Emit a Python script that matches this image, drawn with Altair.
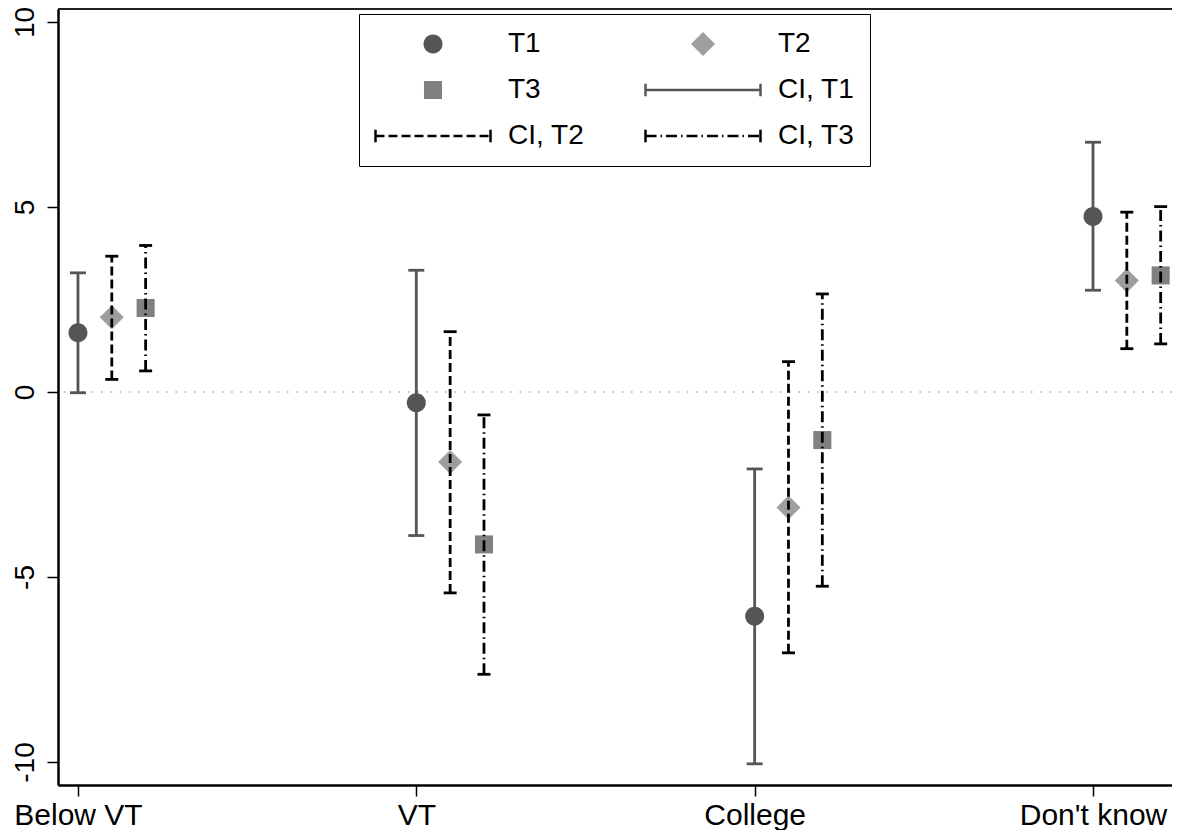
import json
import pandas as pd
import altair as alt

# ---------------- data ----------------
categories = ["Below VT", "VT", "College", "Don't know"]
series_names = ["T1", "T2", "T3"]
ci_names = ["CI, T1", "CI, T2", "CI, T3"]

t1_est = [1.60, -0.29, -6.06, 4.74]
t1_lo = [-0.02, -3.88, -10.05, 2.75]
t1_hi = [3.22, 3.29, -2.08, 6.75]

t2_est = [2.02, -1.89, -3.12, 3.01]
t2_lo = [0.34, -5.43, -7.05, 1.17]
t2_hi = [3.67, 1.63, 0.82, 4.86]

t3_est = [2.27, -4.12, -1.30, 3.15]
t3_lo = [0.57, -7.63, -5.25, 1.30]
t3_hi = [3.96, -0.62, 2.65, 5.01]

y_ticks = [-10, -5, 0, 5, 10]

# ---------------- layout / style ----------------
W, H = 1114, 776
offsets = {"T1": 0.0, "T2": 0.1, "T3": 0.2}
FONT = "Liberation Sans"
SYM = 13225  # symbol size -> r = sqrt(SYM)/2 = 57.5 px

rows = []
for name, est, lo, hi in zip(series_names,
                             [t1_est, t2_est, t3_est],
                             [t1_lo, t2_lo, t3_lo],
                             [t1_hi, t2_hi, t3_hi]):
    for i, cat in enumerate(categories):
        rows.append({"cat": cat, "pos": i + 1 + offsets[name], "series": name,
                     "ci": "CI, " + name, "est": est[i], "lo": lo[i], "hi": hi[i]})
df = pd.DataFrame(rows)

legend_domain = series_names + ci_names
circle = "M0.165,0A0.165,0.165 0 1,1 -0.165,0A0.165,0.165 0 1,1 0.165,0Z"
diamond = "M-0.209,0L0,-0.209L0.209,0L0,0.209Z"
square = "M-0.157,-0.157H0.157V0.157H-0.157Z"
ci_path = "M-1,0H1M-1,0V-0.11M-1,0V0.11M1,0V-0.11M1,0V0.11"

fill_range = ["#555555", "#9e9e9e", "#808080", "transparent", "transparent", "transparent"]
stroke_range = ["transparent", "transparent", "transparent", "#555555", "#000000", "#000000"]
dash_range = [[1, 0], [1, 0], [1, 0], [1, 0], [9, 4], [11, 4, 1.5, 4]]
shape_range = [circle, diamond, square, ci_path, ci_path, ci_path]

legend = alt.Legend(
    title=None, orient="none", legendX=301, legendY=5, columns=2, direction="horizontal",
    labelFontSize=28, labelFont=FONT, labelColor="black",
    symbolSize=SYM, symbolStrokeWidth=2.5, symbolOpacity=1,
    clipHeight=30, rowPadding=16, columnPadding=59, labelOffset=16,
    padding=15, strokeColor="black", fillColor="white", symbolOffset=0,
)

xscale = alt.Scale(domain=[0.941, 4.2335], nice=False, zero=False)
yscale = alt.Scale(domain=[-10.622, 10.351], nice=False, zero=False)

label_expr = json.dumps(categories) + "[datum.value - 1]"
xaxis = alt.Axis(values=[1, 2, 3, 4], labelExpr=label_expr, title=None, grid=False,
                 tickSize=11, tickWidth=1.5, tickColor="black",
                 domainColor="black", domainWidth=2.5,
                 labelFontSize=30, labelFont=FONT, labelColor="black", labelPadding=4)
yaxis = alt.Axis(values=y_ticks, labelExpr="datum.value + ''", title=None, grid=False,
                 labelAngle=270, labelAlign="center", labelBaseline="alphabetic",
                 tickSize=11, tickWidth=1.5, tickColor="black",
                 domainColor="black", domainWidth=2.5,
                 labelFontSize=28, labelFont=FONT, labelColor="black", labelPadding=14)

zero_df = pd.DataFrame({"z": [0]})

zero_line = alt.Chart(zero_df).mark_rule(color="#a8a8a8", strokeDash=[1.5, 7.8], strokeWidth=1.5).encode(
    y=alt.Y("z:Q", scale=yscale, axis=yaxis)
)

top_frame = alt.Chart(zero_df).mark_rule(color="#222222", strokeWidth=2).encode(
    x=alt.value(0), x2=alt.value(W), y=alt.value(0)
)

points = alt.Chart(df).mark_point(filled=True, size=SYM, opacity=1, strokeWidth=2.5).encode(
    x=alt.X("pos:Q", scale=xscale, axis=xaxis),
    y=alt.Y("est:Q", scale=yscale, axis=yaxis),
    fill=alt.Fill("series:N", scale=alt.Scale(domain=legend_domain, range=fill_range), legend=legend),
    stroke=alt.Stroke("series:N", scale=alt.Scale(domain=legend_domain, range=stroke_range), legend=legend),
    shape=alt.Shape("series:N", scale=alt.Scale(domain=legend_domain, range=shape_range), legend=legend),
    strokeDash=alt.StrokeDash("series:N", scale=alt.Scale(domain=legend_domain, range=dash_range), legend=legend),
)

ci_style = {
    "T1": {"color": "#555555", "dash": [1, 0], "cap": 16},
    "T2": {"color": "#000000", "dash": [9, 4], "cap": 13},
    "T3": {"color": "#000000", "dash": [11, 4, 1.5, 4], "cap": 13},
}

layers = [zero_line, points]
for name in series_names:
    st = ci_style[name]
    sub = alt.Chart(df).transform_filter(alt.datum.series == name)
    line = sub.mark_rule(color=st["color"], strokeWidth=2.8, strokeDash=st["dash"]).encode(
        x=alt.X("pos:Q", scale=xscale, axis=xaxis),
        y=alt.Y("lo:Q", scale=yscale, axis=yaxis),
        y2="hi:Q",
    )
    cap_lo = sub.mark_tick(orient="horizontal", size=st["cap"], thickness=2.8,
                           color=st["color"], opacity=1).encode(
        x=alt.X("pos:Q", scale=xscale, axis=xaxis),
        y=alt.Y("lo:Q", scale=yscale, axis=yaxis),
    )
    cap_hi = sub.mark_tick(orient="horizontal", size=st["cap"], thickness=2.8,
                           color=st["color"], opacity=1).encode(
        x=alt.X("pos:Q", scale=xscale, axis=xaxis),
        y=alt.Y("hi:Q", scale=yscale, axis=yaxis),
    )
    layers += [line, cap_lo, cap_hi]
layers.append(top_frame)

chart = alt.layer(*layers).properties(
    width=W, height=H,
    autosize=alt.AutoSizeParams(type="none"),
    padding={"left": 50, "top": 1, "right": 0, "bottom": 45},
    background="white",
).configure_view(
    stroke="#b5b5b5", strokeWidth=1.5
).configure(font=FONT)

chart.save("out.html", embed_options={"renderer": "svg", "actions": False})
